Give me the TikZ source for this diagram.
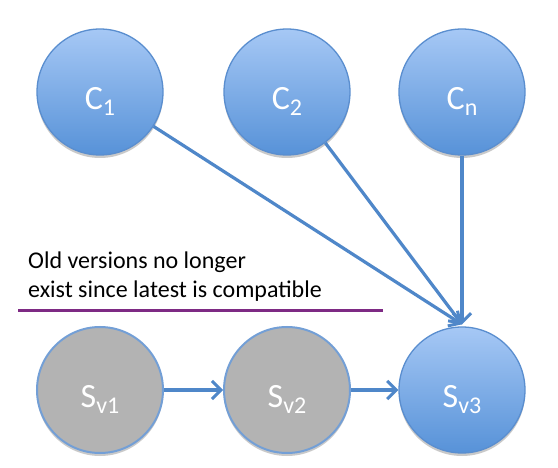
\documentclass[tikz,border=0pt]{standalone}
\usepackage{fontspec}
\setmainfont{Carlito}
\usetikzlibrary{arrows.meta,shadows,calc}
\definecolor{topblue}{HTML}{A6C8F5}
\definecolor{botblue}{HTML}{5792D8}
\definecolor{edgeblue}{HTML}{5A8ECF}
\definecolor{arrblue}{HTML}{4F87C9}
\definecolor{oldgray}{HTML}{B3B3B3}
\definecolor{rulepurple}{HTML}{7E2A84}
\newcommand{\ballabel}[2]{\raisebox{-18pt}[0pt][0pt]{#1\raisebox{-6pt}{\fontsize{24}{26}\selectfont #2}}}
\tikzset{
  ball/.style={circle, minimum size=126pt, inner sep=0pt, draw=edgeblue, line width=1.3pt,
    text=white, font=\fontsize{34}{38}\selectfont,
    drop shadow={shadow xshift=0pt, shadow yshift=-3pt, opacity=0.35, fill=black!60}},
  newball/.style={ball, top color=topblue, bottom color=botblue, shading angle=0},
  oldball/.style={ball, fill=oldgray, line width=2pt, draw=edgeblue!85},
  arr/.style={draw=arrblue, line width=3.2pt, -{Straight Barb[length=9pt,width=18pt,line width=3pt]}},
}
\begin{document}
\begin{tikzpicture}[x=1pt,y=-1pt]
\useasboundingbox[fill=white] (0,0) rectangle (558,468);
\node[newball] (c1) at (100,92) {\ballabel{C}{1}};
\node[newball] (c2) at (287,92) {\ballabel{C}{2}};
\node[newball] (cn) at (462,92) {\ballabel{C}{n}};
\node[oldball] (s1) at (100,390) {\ballabel{S}{v1}};
\node[oldball] (s2) at (287,390) {\ballabel{S}{v2}};
\node[newball] (s3) at (462,390) {\ballabel{S}{v3}};
\coordinate (tip) at ($(s3.north)+(0,-2)$);
\draw[arr] (c1) -- (tip);
\draw[arr] (c2) -- (tip);
\draw[arr] (cn) -- (tip);
\draw[arr] (s1) -- (s2);
\draw[arr] (s2) -- (s3);
\node[anchor=north west, align=left, inner sep=0pt, font=\fontsize{24}{29}\selectfont] (note) at (28,252)
  {Old versions no longer\\exist since latest is compatible};
\coordinate (ruleL) at (18,311);
\coordinate (ruleR) at (383,311);
\draw[rulepurple, line width=3pt] (ruleL) -- (ruleR);
\end{tikzpicture}
\end{document}
